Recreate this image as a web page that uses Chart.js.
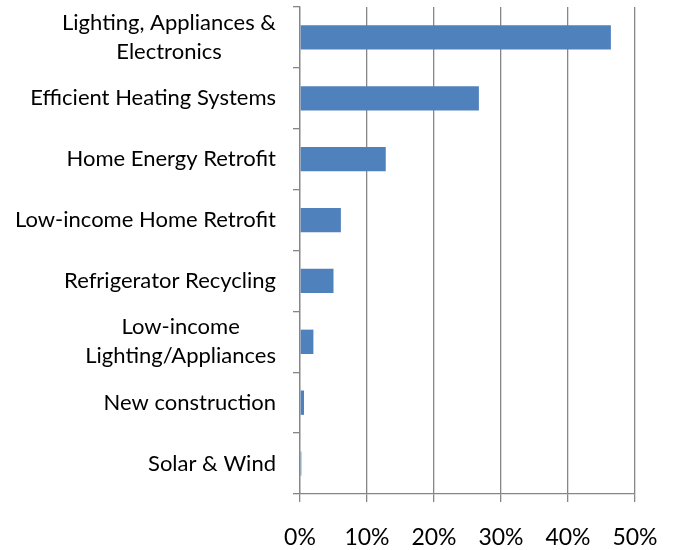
<!DOCTYPE html>
<html>
<head>
<meta charset="utf-8">
<script src="https://cdn.jsdelivr.net/npm/chart.js@4"></script>
<style>
  body { margin: 0; background: #fff; }
  canvas { display: block; }
</style>
</head>
<body>
<canvas id="chart" width="674" height="550"></canvas>
<script>
// programas e a parcela de economia (%)
const programas = [
    ['Lighting, Appliances &', 'Electronics'],
    'Efficient Heating Systems',
    'Home Energy Retrofit',
    'Low-income Home Retrofit',
    'Refrigerator Recycling',
    ['Low-income', 'Lighting/Appliances'],
    'New construction',
    'Solar & Wind'
];
const parcela = [46.4, 26.7, 12.8, 6.1, 5.0, 2.0, 0.6, 0.2];
const ticksX = [0, 10, 20, 30, 40, 50];

const fonte = 'Lato, "Open Sans", sans-serif';
const cinza = '#868686';

// rótulos do eixo Y: bloco alinhado à direita, linhas centralizadas entre si
const rotulosY = {
    id: 'rotulosY',
    afterDraw(chart) {
        const ctx = chart.ctx;
        const y = chart.scales.y;
        const direita = y.right - 24;
        const altLinha = 29;
        ctx.save();
        ctx.font = '22px ' + fonte;
        ctx.fillStyle = '#000';
        ctx.textAlign = 'center';
        ctx.textBaseline = 'middle';
        programas.forEach((rot, i) => {
            const linhas = Array.isArray(rot) ? rot : [rot];
            const larg = Math.max(...linhas.map(l => ctx.measureText(l).width));
            const cx = direita - larg / 2;
            const cy = y.getPixelForValue(i);
            linhas.forEach((l, j) => {
                ctx.fillText(l, cx, cy + (j - (linhas.length - 1) / 2) * altLinha);
            });
        });
        ctx.restore();
    }
};

const ctx = document.getElementById('chart').getContext('2d');
const chart = new Chart(ctx, {
    type: 'bar',
    data: {
        labels: programas,
        datasets: [{
            data: parcela,
            backgroundColor: '#4F81BD',
            borderWidth: 0,
            categoryPercentage: 1,
            barPercentage: 0.4
        }]
    },
    options: {
        indexAxis: 'y',
        responsive: false,
        animation: false,
        layout: { padding: { top: 7, right: 39, left: 0, bottom: 0 } },
        plugins: { legend: { display: false }, tooltip: { enabled: false } },
        scales: {
            x: {
                min: 0,
                max: 50,
                afterBuildTicks: scale => { scale.ticks = ticksX.map(v => ({ value: v })); },
                afterFit: scale => {
                    scale.height = 56;
                    scale.paddingLeft = 0;
                    scale.paddingRight = 0;
                },
                grid: { color: cinza, lineWidth: 1.3, tickLength: 8 },
                border: { color: cinza, width: 1.3 },
                ticks: {
                    color: '#000',
                    font: { family: fonte, size: 23 },
                    padding: 22,
                    maxRotation: 0,
                    callback: v => v + '%'
                }
            },
            y: {
                afterFit: scale => { scale.width = 300; },
                grid: { drawOnChartArea: false, color: cinza, lineWidth: 1.3, tickLength: 7, offset: true },
                border: { color: cinza, width: 1.3 },
                ticks: { display: false }
            }
        }
    },
    plugins: [rotulosY]
});
</script>
</body>
</html>
